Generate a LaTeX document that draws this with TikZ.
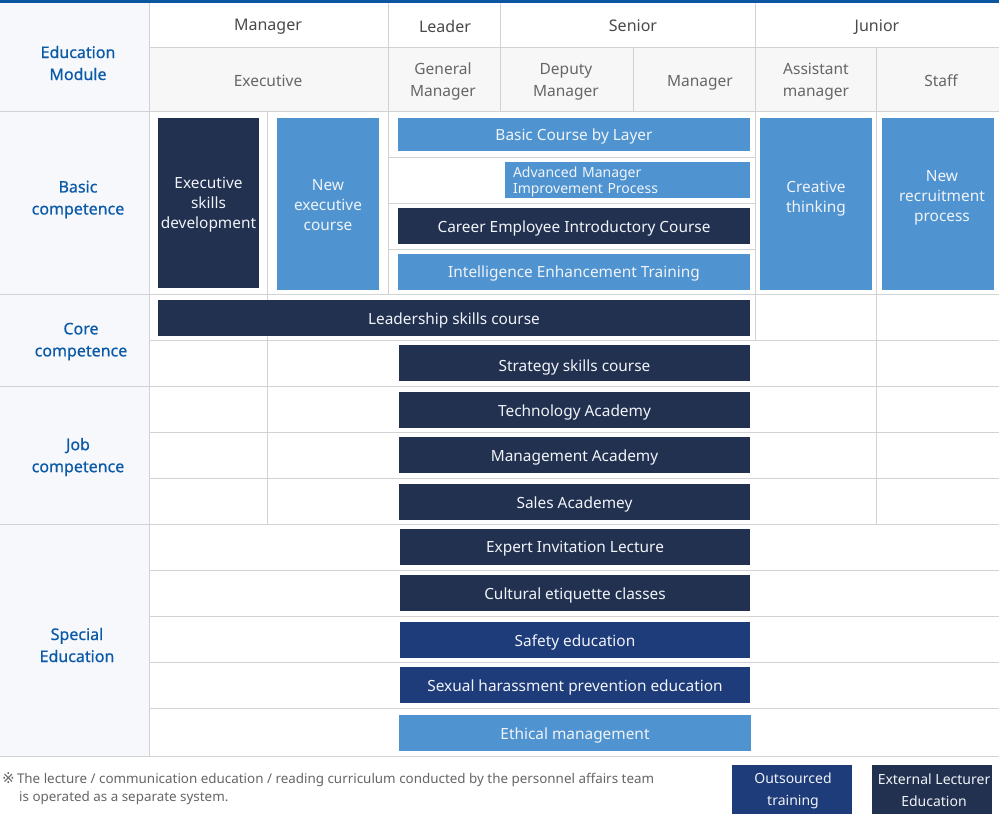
\documentclass[tikz,border=0pt]{standalone}
\usepackage{fontspec}
\setmainfont{Noto Sans}
\newfontfamily\symf{DejaVu Sans}
\newfontfamily\labf{Noto Sans}[FakeBold=0.6]
\definecolor{navy}{HTML}{223150}
\definecolor{mnavy}{HTML}{1E3B7A}
\definecolor{lblue}{HTML}{4F94D0}
\definecolor{gridc}{HTML}{D2D2D2}
\definecolor{topc}{HTML}{0A56A0}
\definecolor{labc}{HTML}{0B5AA8}
\definecolor{hdrc}{HTML}{4A4A4A}
\definecolor{hdrc2}{HTML}{666666}
\definecolor{leftbg}{HTML}{F6F8FC}
\definecolor{hdrbg}{HTML}{F7F7F7}
\definecolor{boxtext}{HTML}{F0F3F8}
% style, x1, y1, x2, y2, name, text, text offset (down, px)
\newcommand\cbox[8]{%
  \node[#1,minimum width={(#4)-(#2)},minimum height={(#5)-(#3)}] (#6) at ({((#2)+(#4))/2},{((#3)+(#5))/2}) {};
  \node[boxtxt] (#6t) at ([yshift={-(#8)}]#6.center) {#7};}
\begin{document}
\begin{tikzpicture}[x=1pt,y=-1pt,
  gridline/.style={draw=gridc,line width=1pt},
  boxbase/.style={inner sep=0pt},
  boxtxt/.style={inner sep=0pt,align=center,text=boxtext,font=\fontsize{15.4}{20}\selectfont},
  dbox/.style={boxbase,fill=navy},
  mbox/.style={boxbase,fill=mnavy},
  lbox/.style={boxbase,fill=lblue},
  hdr/.style={text=hdrc,align=center,anchor=base,font=\fontsize{16}{22}\selectfont},
  hdrb/.style={text=hdrc2,align=center,font=\fontsize{15.5}{22}\selectfont},
  lab/.style={text=labc,align=center,font=\labf\fontsize{16}{22}\selectfont},
  legtxt/.style={inner sep=0pt,align=center,text=boxtext,font=\fontsize{14}{22}\selectfont}]
\useasboundingbox[fill=white] (0,0) rectangle (999,828);
% backgrounds
\fill[leftbg] (0,2) rectangle (149,756);
\fill[hdrbg] (149,47) rectangle (999,111);
\fill[topc] (0,0) rectangle (999,2.5);
% vertical grid lines
\draw[gridline] (149,2.5) -- (149,756);
\draw[gridline] (388,2.5) -- (388,294);
\draw[gridline] (500,2.5) -- (500,111);
\draw[gridline] (633,47) -- (633,111);
\draw[gridline] (755,2.5) -- (755,340);
\draw[gridline] (876,47) -- (876,524);
\draw[gridline] (267,111) -- (267,524);
% horizontal grid lines
\draw[gridline] (149,47) -- (999,47);
\foreach \y in {111,294,386,524,756} {\draw[gridline] (0,\y) -- (999,\y);}
\foreach \y in {157,203,249} {\draw[gridline] (388,\y) -- (755,\y);}
\foreach \y in {340,432,478,570,616,662,708} {\draw[gridline] (149,\y) -- (999,\y);}
% headers
\node[lab] (edm) at (78,63) {Education\\Module};
\node[hdr] (hmgr) at (268,30.7) {Manager};
\node[hdr] (hlead) at (445,32) {Leader};
\node[hdr] (hsen) at (633,31.7) {Senior};
\node[hdr] (hjun) at (877,31.7) {Junior};
\node[hdrb,anchor=base] (hexe) at (268,86) {Executive};
\node[hdrb] (hgm) at (443,81.5) {General\\Manager};
\node[hdrb] (hdm) at (566,82) {Deputy\\Manager};
\node[hdrb,anchor=base] (hm) at (700,86) {Manager};
\node[hdrb] (ham) at (816,82) {Assistant\\manager};
\node[hdrb,anchor=base] (hst) at (941,86) {Staff};
% row labels
\node[lab] (lbasic) at (78,199.5) {Basic\\competence};
\node[lab] (lcore) at (81,341.5) {Core\\competence};
\node[lab] (ljob) at (78,457) {Job\\competence};
\node[lab] (lspec) at (77,645) {Special\\Education};
% basic competence boxes
\cbox{dbox}{158}{118}{259}{288}{esd}{Executive\\skills\\development}{2}
\cbox{lbox}{277}{118}{379}{290}{nec}{New\\executive\\course}{1}
\cbox{lbox}{398}{118}{750}{151}{bcl}{Basic Course by Layer}{2}
\node[lbox,minimum width=245,minimum height=36] (amip) at (627.5,180) {};
\node[inner sep=0pt,text width=229,align=left,text=boxtext,font=\fontsize{14}{16}\selectfont] (amipt) at ([yshift=-2pt]amip.center) {Advanced Manager\\Improvement Process};
\cbox{dbox}{398}{208}{750}{244}{ceic}{Career Employee Introductory Course}{2}
\cbox{lbox}{398}{254}{750}{290}{iet}{Intelligence Enhancement Training}{1.5}
\cbox{lbox}{760}{118}{872}{290}{ct}{Creative\\thinking}{-5}
\node[lbox,minimum width=112,minimum height=172] (nrp) at (938,204) {};
\node[boxtxt] (nrpt) at ([xshift=4pt,yshift=6pt]nrp.center) {New\\recruitment\\process};
% core competence
\cbox{dbox}{158}{300}{750}{336}{lsc}{Leadership skills course}{2}
\cbox{dbox}{399}{345}{750}{381}{ssc}{Strategy skills course}{4}
% job competence
\cbox{dbox}{399}{392}{750}{428}{ta}{Technology Academy}{2}
\cbox{dbox}{399}{437}{750}{473}{ma}{Management Academy}{2}
\cbox{dbox}{399}{484}{750}{520}{sa}{Sales Academey}{2}
% special education
\cbox{dbox}{400}{529}{750}{565}{eil}{Expert Invitation Lecture}{2}
\cbox{dbox}{400}{575}{750}{611}{cec}{Cultural etiquette classes}{2}
\cbox{mbox}{400}{622}{750}{658}{se}{Safety education}{2}
\cbox{mbox}{400}{667}{750}{703}{shpe}{Sexual harassment prevention education}{2}
\cbox{lbox}{399}{715}{751}{751}{em}{Ethical management}{2}
% legend
\node[boxbase,fill=mnavy,minimum width=120,minimum height=49] (legout) at (792,789.5) {};
\node[legtxt] (legoutt) at ([xshift=1pt,yshift=-1pt]legout.center) {Outsourced\\training};
\node[boxbase,fill=navy,minimum width=120,minimum height=49] (legext) at (932,789.5) {};
\node[legtxt] (legextt) at ([xshift=2pt,yshift=-1pt]legext.center) {External Lecturer\\Education};
\node[anchor=west,inner sep=0pt,align=left,text=hdrc2,font=\fontsize{13.4}{18}\selectfont] (note) at (2,789) {{\symf\fontsize{15}{18}\selectfont ※}\,The lecture / communication education / reading curriculum conducted by the personnel affairs team\\\hspace*{17pt}is operated as a separate system.};
\end{tikzpicture}
\end{document}
